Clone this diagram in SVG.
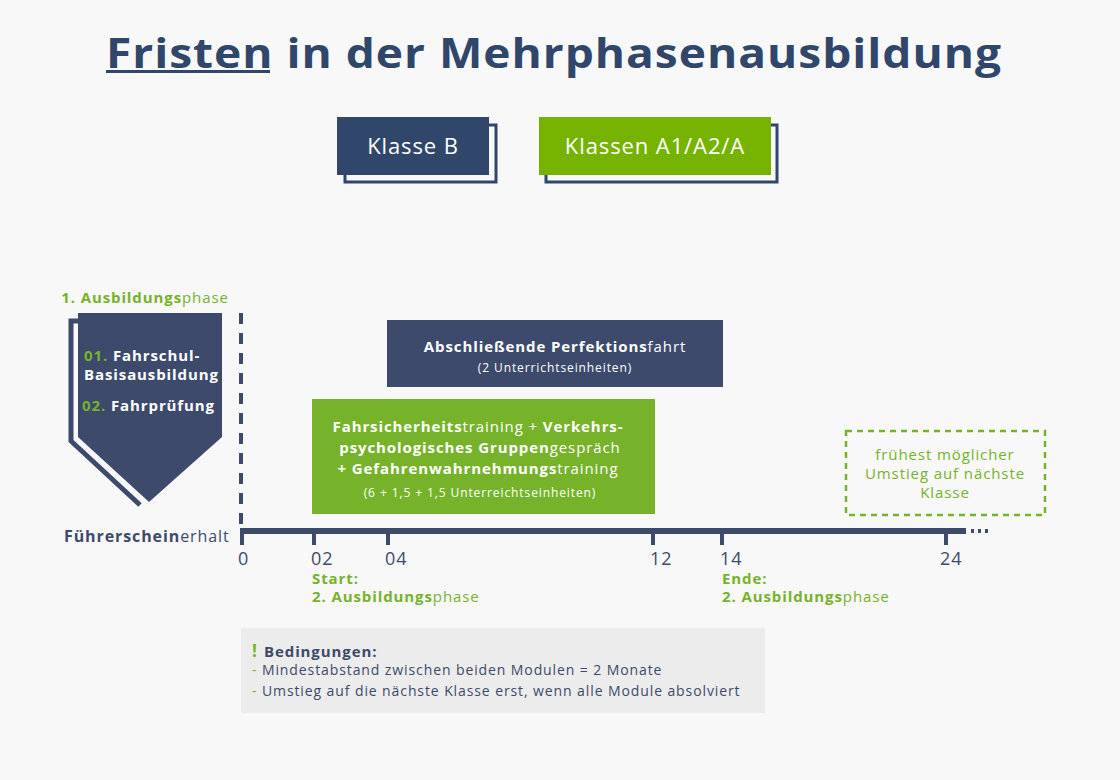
<svg xmlns="http://www.w3.org/2000/svg" width="1120" height="780" viewBox="0 0 1120 780">
<style>
text{font-family:"Open Sans","Noto Sans",sans-serif;letter-spacing:0.9px}
.d{fill:#3d4a6b}.g{fill:#76b32a}.w{fill:#fff}
.b{font-weight:700}
</style>
<rect width="1120" height="780" fill="#f8f8f8"/>
<g id="title">
<text x="106" y="68" font-size="42" font-weight="700" fill="#30466a" textLength="896" lengthAdjust="spacingAndGlyphs">Fristen in der Mehrphasenausbildung</text>
<rect x="106" y="70" width="164" height="3" fill="#30466a"/>
</g>
<g id="legend-b">
<rect x="345" y="125" width="151" height="57" fill="none" stroke="#30466a" stroke-width="3"/>
<rect x="337" y="117" width="152" height="58" fill="#30466a"/>
<text x="413" y="154" text-anchor="middle" font-size="22" class="w">Klasse B</text>
</g>
<g id="legend-a">
<rect x="546" y="125" width="231" height="57" fill="none" stroke="#30466a" stroke-width="3"/>
<rect x="539" y="117" width="232" height="58" fill="#76b300"/>
<text x="655" y="154" text-anchor="middle" font-size="22" class="w">Klassen A1/A2/A</text>
</g>
<g id="phase1">
<text x="145" y="303" text-anchor="middle" font-size="15" class="g"><tspan class="b">1. Ausbildungs</tspan>phase</text>
<polyline points="78,321 71,321 71,441 140,505" fill="none" stroke="#3d4a6b" stroke-width="5"/>
<polygon points="78,313 222,313 222,437 149,502 78,437" fill="#3d4a6b"/>
<text x="84" y="361" font-size="15" class="b w"><tspan class="g">01.</tspan> Fahrschul-</text>
<text x="84" y="380" font-size="15" class="b w">Basisausbildung</text>
<text x="82" y="411" font-size="15" class="b w"><tspan class="g">02.</tspan> Fahrprüfung</text>
</g>
<g id="connectors">
<line x1="241" y1="313" x2="241" y2="525" stroke="#3d4a6b" stroke-width="4" stroke-dasharray="11,9"/>
<line x1="240" y1="531" x2="966" y2="531" stroke="#3d4a6b" stroke-width="6"/>
<g stroke="#3d4a6b" stroke-width="4">
<line x1="242" y1="528" x2="242" y2="545"/>
<line x1="314" y1="528" x2="314" y2="545"/>
<line x1="388" y1="528" x2="388" y2="545"/>
<line x1="653" y1="528" x2="653" y2="545"/>
<line x1="722" y1="528" x2="722" y2="545"/>
<line x1="946" y1="528" x2="946" y2="545"/>
</g>
<line x1="971" y1="531" x2="992" y2="531" stroke="#3d4a6b" stroke-width="4" stroke-dasharray="3,4"/>
</g>
<g id="axis-labels" font-size="18" fill="#3d4a6b">
<text x="64" y="542" font-size="16" class="d"><tspan class="b">Führerschein</tspan>erhalt</text>
<text x="238" y="565">0</text>
<text x="311" y="565">02</text>
<text x="385" y="565">04</text>
<text x="650" y="565">12</text>
<text x="720" y="565">14</text>
<text x="940" y="565">24</text>
</g>
<g id="start" font-size="15" class="g">
<text x="312" y="584" class="b">Start:</text>
<text x="312" y="602"><tspan class="b">2. Ausbildungs</tspan>phase</text>
</g>
<g id="ende" font-size="15" class="g">
<text x="722" y="584" class="b">Ende:</text>
<text x="722" y="602"><tspan class="b">2. Ausbildungs</tspan>phase</text>
</g>
<g id="perfektion">
<rect x="387" y="320" width="336" height="67" fill="#3d4a6b"/>
<text x="555" y="352" text-anchor="middle" font-size="15" class="w"><tspan class="b">Abschließende Perfektions</tspan>fahrt</text>
<text x="555" y="372" text-anchor="middle" font-size="12" class="w">(2 Unterrichtseinheiten)</text>
</g>
<g id="training">
<rect x="312" y="399" width="343" height="115" fill="#76b32a"/>
<text x="478" y="432" text-anchor="middle" font-size="15" class="w"><tspan class="b">Fahrsicherheits</tspan>training + <tspan class="b">Verkehrs-</tspan></text>
<text x="480" y="453" text-anchor="middle" font-size="15" class="w"><tspan class="b">psychologisches Gruppen</tspan>gespräch</text>
<text x="478" y="474" text-anchor="middle" font-size="15" class="w"><tspan class="b">+ Gefahrenwahrnehmungs</tspan>training</text>
<text x="480" y="497" text-anchor="middle" font-size="12" class="w">(6  + 1,5 + 1,5 Unterreichtseinheiten)</text>
</g>
<g id="umstieg">
<rect x="846" y="431" width="199" height="84" fill="none" stroke="#76b32a" stroke-width="2.5" stroke-dasharray="6,5"/>
<text x="945" y="460" text-anchor="middle" font-size="15" class="g">frühest möglicher</text>
<text x="945" y="479" text-anchor="middle" font-size="15" class="g">Umstieg auf nächste</text>
<text x="945" y="498" text-anchor="middle" font-size="15" class="g">Klasse</text>
</g>
<g id="bedingungen">
<rect x="241" y="628" width="524" height="85" fill="#ececec"/>
<text x="252" y="657" font-size="17" class="b g">!</text>
<text x="264" y="657" font-size="15" class="b d">Bedingungen:</text>
<text x="252" y="675" font-size="14" class="d"><tspan class="g">-</tspan> Mindestabstand zwischen beiden Modulen = 2 Monate</text>
<text x="252" y="696" font-size="14" class="d"><tspan class="g">-</tspan> Umstieg auf die nächste Klasse erst, wenn alle Module absolviert</text>
</g>
</svg>
